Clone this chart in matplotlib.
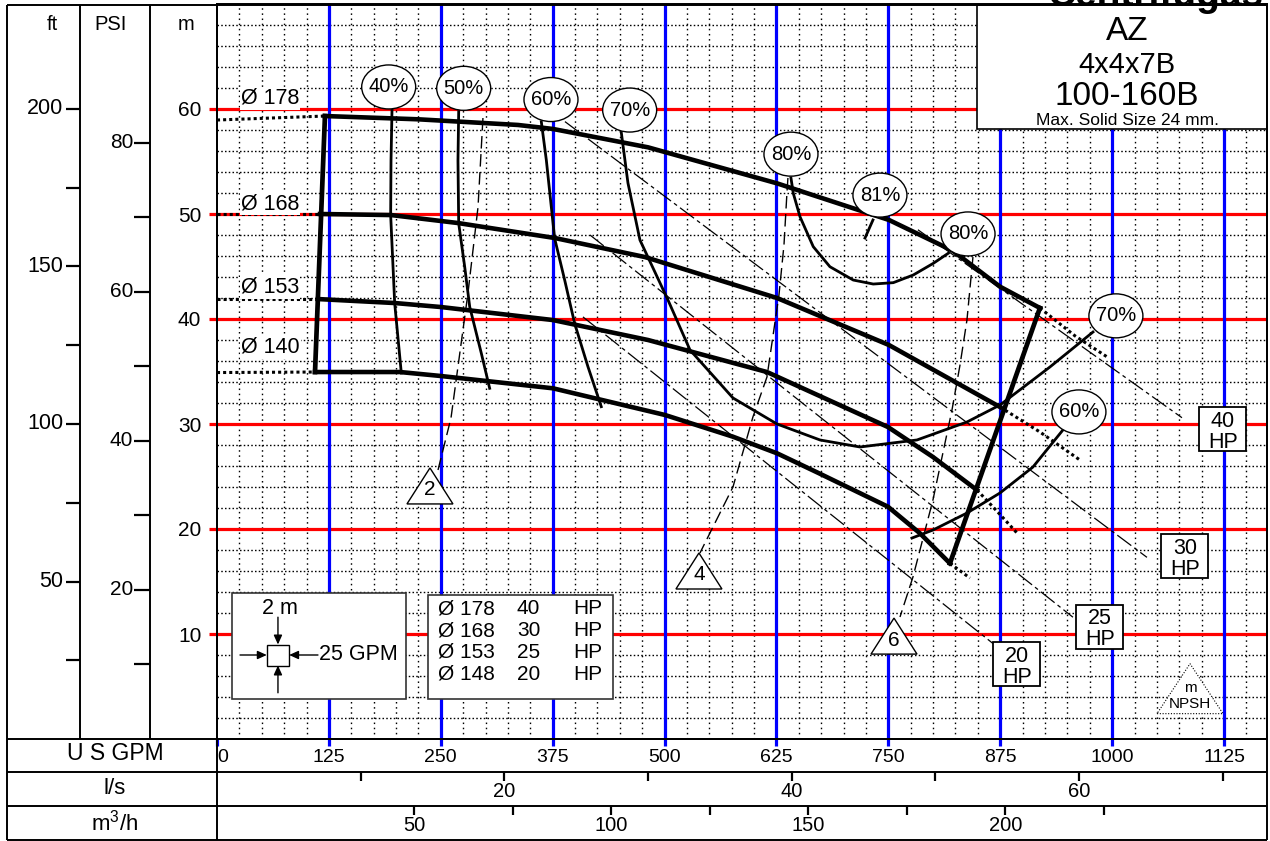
import numpy as np
import matplotlib
matplotlib.use("Agg")
import matplotlib.pyplot as plt
from matplotlib.patches import Ellipse, Rectangle, Polygon

plt.rcParams['font.family'] = ['Liberation Sans', 'DejaVu Sans']
plt.rcParams['mathtext.fontset'] = 'custom'
plt.rcParams['mathtext.rm'] = 'Liberation Sans'
plt.rcParams['mathtext.it'] = 'Liberation Sans:italic'

# ---------------- data (flow in US GPM, head in m) ----------------
# impeller head curves: operating (solid) part
d178_q = [120.6, 224.5, 336.2, 375.3, 481.5, 625.6, 750.7, 822.0, 874.7, 919.3]
d178_h = [59.33, 59.02, 58.48, 58.10, 56.35, 52.92, 49.43, 46.5, 43.08, 41.05]
d168_q = [115.1, 194.4, 269.2, 377.6, 478.1, 625.6, 750.7, 874.7]
d168_h = [50.0, 49.90, 49.14, 47.71, 45.90, 42.0, 37.52, 31.62]
d153_q = [112.8, 198.8, 250.2, 375.3, 481.5, 614.4, 749.6, 799.8, 849.0]
d153_h = [41.90, 41.52, 41.14, 39.90, 38.0, 34.95, 29.71, 26.86, 23.71]
d140_q = [109.5, 204.4, 250.2, 375.3, 500.4, 576.4, 625.6, 672.7, 749.6, 785.3, 818.8]
d140_h = [34.95, 34.95, 34.57, 33.40, 30.86, 28.79, 27.21, 25.30, 22.12, 19.59, 16.73]
# shut-off heads and run-out extensions (dotted)
shutoff_h = [58.95, 50.0, 41.9, 34.9]
d178_ext_q = [958.4, 994.2]
d178_ext_h = [38.4, 36.4]
d168_ext_q = [919.3, 964.0]
d168_ext_h = [29.24, 26.57]
d153_ext_q = [871.3, 893.7]
d153_ext_h = [21.7, 19.62]
d140_ext_q = [841.1]
d140_ext_h = [15.33]
diam_labels = ['Ø 178', 'Ø 168', 'Ø 153', 'Ø 140']
diam_label_h = [61.0, 51.0, 43.05, 37.33]

# iso-efficiency curves
eff40_q = [195.5, 194.4, 194.0, 198.5, 205.9]
eff40_h = [59.9, 55.1, 49.9, 41.5, 34.86]
eff50_q = [270.0, 269.2, 270.0, 276.7, 282.3, 295.3, 304.6]
eff50_h = [59.74, 55.1, 49.11, 44.98, 41.17, 36.73, 33.4]
eff60_q = [362.3, 367.9, 377.2, 388.4, 399.5, 414.4, 429.3]
eff60_h = [58.79, 55.14, 47.68, 43.71, 39.59, 35.46, 31.65]
eff70_q = [451.3, 459.1, 472.5, 503.8, 528.4, 576.4, 625.6, 673.6, 718.3, 782.0, 837.8, 874.7, 930.5, 978.6]
eff70_h = [58.0, 52.95, 47.52, 41.81, 37.05, 32.48, 30.0, 28.48, 27.81, 28.48, 30.19, 31.81, 35.43, 38.76]
eff80_q = [641.2, 643.8, 651.3, 666.1, 684.7, 710.8, 733.1, 755.5, 777.8, 800.2, 816.9]
eff80_h = [53.43, 51.97, 49.74, 46.89, 44.98, 43.71, 43.33, 43.46, 44.19, 45.30, 46.26]
eff81_q = [732.8, 723.9]
eff81_h = [49.43, 47.71]
eff60r_q = [945.0, 911.5, 874.7, 837.8, 799.8, 776.4]
eff60r_h = [29.43, 25.90, 23.43, 21.52, 19.90, 19.14]
eff_labels = ['40%', '50%', '60%', '70%', '80%', '81%', '80%', '70%', '60%']
eff_label_q = [191.8, 275.6, 373.1, 461.0, 641.2, 740.6, 839.0, 1004.2, 962.9]
eff_label_h = [62.1, 61.97, 60.9, 59.9, 55.7, 51.8, 48.1, 40.3, 31.15]

# NPSH required lines (m)
npsh_values = ['2', '4', '6']
npsh2_q = [297.1, 291.6, 280.4, 261.4, 246.9]
npsh2_h = [59.14, 50.67, 42.48, 30.57, 25.62]
npsh4_q = [637.8, 636.7, 633.4, 627.8, 614.4, 598.7, 576.4, 539.5]
npsh4_h = [53.43, 52.0, 47.05, 42.29, 34.48, 30.67, 24.0, 17.71]
npsh6_q = [844.5, 837.8, 830.0, 821.0, 799.8, 777.5, 763.0]
npsh6_h = [45.9, 39.9, 35.6, 31.3, 22.76, 15.43, 11.62]
npsh_mark_q = [237.9, 538.4, 756.3]
npsh_mark_h = [24.1, 16.0, 9.8]

# motor power limit lines
hp_values = [40, 30, 25, 20]
hp40_q = [783.0, 1078.0]
hp40_h = [48.5, 30.6]
hp30_q = [388.7, 1038.9]
hp30_h = [58.8, 17.3]
hp25_q = [416.7, 956.2]
hp25_h = [48.0, 11.6]
hp20_q = [408.8, 866.8]
hp20_h = [40.2, 9.1]
hp_box_q = [1123.8, 1081.3, 986.4, 893.7]
hp_box_h = [29.5, 17.4, 10.7, 7.1]

# impeller / motor table
table_diam = [178, 168, 153, 148]
table_hp = [40, 30, 25, 20]

# secondary scales
ft_ticks = [25, 50, 75, 100, 125, 150, 175, 200]
ft_labels = [50, 100, 150, 200]
psi_ticks = [10, 20, 30, 40, 50, 60, 70, 80]
psi_labels = [20, 40, 60, 80]
m_ticks = [10, 20, 30, 40, 50, 60]
gpm_ticks = [0, 125, 250, 375, 500, 625, 750, 875, 1000, 1125]
ls_ticks = [10, 20, 30, 40, 50, 60, 70]
ls_labels = [20, 40, 60]
m3h_ticks = [50, 75, 100, 125, 150, 175, 200, 225]
m3h_labels = [50, 100, 150, 200]
FT_TO_M = 0.30
PSI_TO_M = 0.71
GPM_PER_LS = 16.05
GPM_PER_M3H = 4.403

Q_MAX = 1173
H_MAX = 70

# ---------------- figure layout ----------------
W, HP = 1270, 841
fig = plt.figure(figsize=(W / 100, HP / 100), dpi=100)


def fx(px):
    return px / W


def fy(py):
    return 1 - py / HP


ax = fig.add_axes([fx(217), fy(739), (1267 - 217) / W, (739 - 4) / HP])
ax.set_xlim(0, Q_MAX)
ax.set_ylim(0, H_MAX)
for s in ax.spines.values():
    s.set_linewidth(1.4)

# grid
for q in np.arange(25, Q_MAX, 25):
    ax.axvline(q, color='black', lw=1.0, ls=(0, (1.1, 2.6)), zorder=1)
for h in np.arange(2, H_MAX, 2):
    ax.axhline(h, color='black', lw=1.0, ls=(0, (1.1, 1.6)), zorder=1)
for h in m_ticks:
    ax.axhline(h, color='#ff0000', lw=2.3, zorder=2)
for q in gpm_ticks[1:]:
    ax.axvline(q, color='#0000ff', lw=2.3, zorder=2)

ax.set_yticks(m_ticks)
ax.set_yticklabels([str(v) for v in m_ticks])
ax.tick_params(axis='y', color='#ff0000', labelcolor='black', length=5.8,
               width=2.3, pad=5.5, labelsize=15)
ax.set_xticks(gpm_ticks)
ax.set_xticklabels([str(v) for v in gpm_ticks])
ax.tick_params(axis='x', color='#0000ff', labelcolor='black', length=5,
               width=2.3, pad=2, labelsize=14)
ax.get_xticklabels()[0].set_horizontalalignment('left')

# head curves
heads = [(d178_q, d178_h, d178_ext_q, d178_ext_h),
         (d168_q, d168_h, d168_ext_q, d168_ext_h),
         (d153_q, d153_h, d153_ext_q, d153_ext_h),
         (d140_q, d140_h, d140_ext_q, d140_ext_h)]
dot = (0, (1, 1))
for (q, h, eq, eh), h0, lab, lh in zip(heads, shutoff_h, diam_labels, diam_label_h):
    ax.plot([0, q[0]], [h0, h[0]], color='black', lw=2.2, ls=dot, zorder=4)
    ax.plot([q[-1]] + eq, [h[-1]] + eh, color='black', lw=2.2, ls=dot, zorder=4)
    ax.plot(q, h, color='black', lw=3.3, zorder=5, solid_joinstyle='round')
    ax.text(26.8, lh, lab, fontsize=15.5, ha='left', va='center', zorder=6,
            bbox=dict(boxstyle='square,pad=0.05', fc='white', ec='none'))

# operating range boundary
ax.plot([d178_q[0], d140_q[0]], [d178_h[0], d140_h[0]], color='black', lw=3.4, zorder=5)
ax.plot([d178_q[-1], d140_q[-1]], [d178_h[-1], d140_h[-1]], color='black', lw=3.4, zorder=5)

# efficiency curves
for q, h in [(eff40_q, eff40_h), (eff50_q, eff50_h), (eff60_q, eff60_h),
             (eff70_q, eff70_h), (eff80_q, eff80_h), (eff81_q, eff81_h),
             (eff60r_q, eff60r_h)]:
    ax.plot(q, h, color='black', lw=2.0, zorder=5, solid_joinstyle='round')

# power limit lines
for q, h in [(hp40_q, hp40_h), (hp30_q, hp30_h), (hp25_q, hp25_h), (hp20_q, hp20_h)]:
    ax.plot(q, h, color='black', lw=0.9, ls=(0, (14, 3, 3, 3)), zorder=3)

# NPSH lines
for q, h in [(npsh2_q, npsh2_h), (npsh4_q, npsh4_h), (npsh6_q, npsh6_h)]:
    ax.plot(q, h, color='black', lw=1.0, ls=(0, (9, 4)), zorder=3)

# pixel-based sizes converted to data units
px_q = Q_MAX / 1050.0
px_h = H_MAX / 735.0

# efficiency bubbles
for lab, q, h in zip(eff_labels, eff_label_q, eff_label_h):
    ax.add_patch(Ellipse((q, h), 54 * px_q, 44 * px_h, fc='white', ec='black', lw=1.0, zorder=7))
    ax.text(q, h, lab, fontsize=14.5, ha='center', va='center', zorder=8)

# NPSH triangles
for lab, q, h in zip(npsh_values, npsh_mark_q, npsh_mark_h):
    tri = [(q - 23 * px_q, h - 18 * px_h), (q + 23 * px_q, h - 18 * px_h), (q, h + 18 * px_h)]
    ax.add_patch(Polygon(tri, closed=True, fc='white', ec='black', lw=1.0, zorder=7))
    ax.text(q, h - 4 * px_h, lab, fontsize=15, ha='center', va='center', zorder=8)

# NPSH key triangle
kq, kh = 1087.0, 4.7
tri = [(kq - 33 * px_q, kh - 24 * px_h), (kq + 33 * px_q, kh - 24 * px_h), (kq, kh + 26 * px_h)]
ax.add_patch(Polygon(tri, closed=True, fc='white', ec='black', lw=0.8, ls=(0, (1, 1.5)), zorder=7))
ax.text(kq, kh + 2 * px_h, 'm', fontsize=11, ha='center', va='center', zorder=8)
ax.text(kq, kh - 14 * px_h, 'NPSH', fontsize=11, ha='center', va='center', zorder=8)

# HP boxes
for v, q, h in zip(hp_values, hp_box_q, hp_box_h):
    ax.add_patch(Rectangle((q - 23.5 * px_q, h - 22 * px_h), 47 * px_q, 44 * px_h,
                           fc='white', ec='black', lw=1.3, zorder=7))
    ax.text(q, h + 8 * px_h, str(v), fontsize=15.5, ha='center', va='center', zorder=8)
    ax.text(q, h - 13 * px_h, 'HP', fontsize=15.5, ha='center', va='center', zorder=8)

# grid-scale key
ax.add_patch(Rectangle((16.8, 3.81), 194.3, 10.09, fc='white', ec='#333333', lw=1.2, zorder=7))
sq_q, sq_h = 68.1, 8.0
ax.add_patch(Rectangle((sq_q - 12.5, sq_h - 1), 25, 2, fc='white', ec='black', lw=1.0, zorder=8))
arrow = dict(arrowstyle='-|>,head_length=0.55,head_width=0.25', color='black', lw=1.0,
             shrinkA=0, shrinkB=0)
ax.annotate('', xy=(sq_q, sq_h + 1), xytext=(sq_q, sq_h + 3.6), arrowprops=arrow, zorder=8)
ax.annotate('', xy=(sq_q, sq_h - 1), xytext=(sq_q, sq_h - 3.6), arrowprops=arrow, zorder=8)
ax.annotate('', xy=(sq_q - 12.5, sq_h), xytext=(sq_q - 42.4, sq_h), arrowprops=arrow, zorder=8)
ax.annotate('', xy=(sq_q + 12.5, sq_h), xytext=(sq_q + 44.7, sq_h), arrowprops=arrow, zorder=8)
ax.text(sq_q + 2.3, 12.4, '2 m', fontsize=15.5, ha='center', va='center', zorder=8)
ax.text(sq_q + 45.5, sq_h, '25 GPM', fontsize=15.5, ha='left', va='center', zorder=8)

# impeller / motor table
ax.add_patch(Rectangle((235.7, 3.81), 206.7, 9.9, fc='white', ec='#333333', lw=1.2, zorder=7))
for i, (d, p) in enumerate(zip(table_diam, table_hp)):
    y = 12.4 - 2.07 * i
    ax.text(246.9, y, f'Ø {d}', fontsize=15, ha='left', va='center', zorder=8)
    ax.text(335.1, y, str(p), fontsize=15, ha='left', va='center', zorder=8)
    ax.text(397.7, y, 'HP', fontsize=15, ha='left', va='center', zorder=8)

# ---------------- left scales: ft and PSI ----------------
ax_ft = fig.add_axes([fx(7), fy(739), 73 / W, 735 / HP])
ax_ft.set_ylim(0, H_MAX / FT_TO_M)
ax_ft.axis('off')
tr = ax_ft.get_yaxis_transform()
ax_ft.hlines(ft_ticks, 0.808, 1.0, transform=tr, color='black', lw=1.6)
for v in ft_labels:
    ax_ft.text(0.77, v, str(v), transform=tr, fontsize=15.5, ha='right', va='center')

ax_psi = fig.add_axes([fx(80), fy(739), 70 / W, 735 / HP])
ax_psi.set_ylim(0, H_MAX / PSI_TO_M)
ax_psi.axis('off')
tr = ax_psi.get_yaxis_transform()
ax_psi.hlines(psi_ticks, 0.771, 1.0, transform=tr, color='black', lw=1.6)
for v in psi_labels:
    ax_psi.text(0.76, v, str(v), transform=tr, fontsize=15, ha='right', va='center')

# ---------------- bottom scales: l/s and m3/h ----------------
ax_ls = fig.add_axes([fx(217), fy(806), 1050 / W, 34 / HP])
ax_ls.set_xlim(0, Q_MAX / GPM_PER_LS)
ax_ls.set_ylim(0, 1)
ax_ls.axis('off')
tr = ax_ls.get_xaxis_transform()
ax_ls.vlines(ls_ticks, 0.74, 1.0, transform=tr, color='black', lw=1.6)
for v in ls_labels:
    ax_ls.text(v, 0.42, str(v), transform=tr, fontsize=14.5, ha='center', va='center')

ax_m3 = fig.add_axes([fx(217), fy(840), 1050 / W, 34 / HP])
ax_m3.set_xlim(0, Q_MAX / GPM_PER_M3H)
ax_m3.set_ylim(0, 1)
ax_m3.axis('off')
tr = ax_m3.get_xaxis_transform()
ax_m3.vlines(m3h_ticks, 0.74, 1.0, transform=tr, color='black', lw=1.6)
for v in m3h_labels:
    ax_m3.text(v, 0.42, str(v), transform=tr, fontsize=14.5, ha='center', va='center')

# ---------------- frame, headers and title block (pixel overlay) ----------------
fr = fig.add_axes([0, 0, 1, 1], zorder=10)
fr.set_xlim(0, W)
fr.set_ylim(HP, 0)
fr.axis('off')
lk = dict(color='black', lw=1.4, solid_capstyle='butt')
fr.plot([7, 1267], [4.5, 4.5], **lk)
fr.plot([7, 7], [4.5, 840], **lk)
fr.plot([1267, 1267], [4.5, 840], **lk)
fr.plot([7, 1267], [840, 840], **lk)
fr.plot([80, 80], [4.5, 739], **lk)
fr.plot([150, 150], [4.5, 739], **lk)
fr.plot([217, 217], [4.5, 840], **lk)
for y in (739, 772, 806):
    fr.plot([7, 1267], [y, y], **lk)

fr.text(52, 24, 'ft', fontsize=14.5, ha='center', va='center')
fr.text(111, 24, 'PSI', fontsize=14.5, ha='center', va='center')
fr.text(186, 24, 'm', fontsize=14.5, ha='center', va='center')
fr.text(115, 754, 'U S GPM', fontsize=16.5, ha='center', va='center')
fr.text(115, 789, 'l/s', fontsize=16, ha='center', va='center')
fr.text(115, 823, 'm$^3$/h', fontsize=16, ha='center', va='center')

fr.add_patch(Rectangle((977, 4.5), 290, 124.5, fc='white', ec='black', lw=1.2))
fr.text(1155, 6, 'Centrifugas', fontsize=28, fontweight='bold', ha='center', va='baseline')
fr.text(1127, 31, 'AZ', fontsize=24, ha='center', va='center')
fr.text(1127, 65, '4x4x7B', fontsize=21, ha='center', va='center')
fr.text(1127, 96, '100-160B', fontsize=24, ha='center', va='center')
fr.text(1127, 120, 'Max. Solid Size 24 mm.', fontsize=12.5, ha='center', va='center')

fig.savefig('out.png', dpi=100)
